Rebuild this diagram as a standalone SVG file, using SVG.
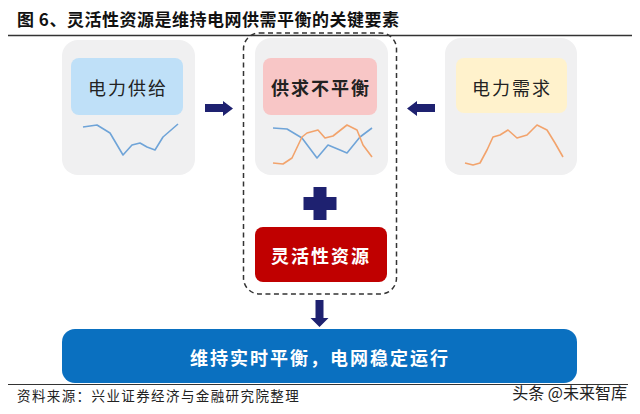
<svg xmlns="http://www.w3.org/2000/svg" width="640" height="414" viewBox="0 0 640 414">
<defs>
<style>
.card{fill:#f0f0f1;}
.lbl{font-family:"Noto Sans CJK SC","Noto Sans",sans-serif;font-size:18px;fill:#222;text-anchor:middle;dominant-baseline:central;letter-spacing:2px;}
.wht{fill:#fff;font-weight:bold;}
.blue{fill:none;stroke:#6fa4d8;stroke-width:1.6;stroke-linejoin:round;}
.orng{fill:none;stroke:#f2a36c;stroke-width:1.6;stroke-linejoin:round;}
.arrow{fill:#1e2170;}
</style>
</defs>
<rect width="640" height="414" fill="#fff"/>
<text x="17" y="26" font-family="Noto Sans CJK SC,sans-serif" font-size="17" font-weight="bold" fill="#111" letter-spacing="0.5">图 6、灵活性资源是维持电网供需平衡的关键要素</text>
<line x1="8" y1="35.5" x2="632" y2="35.5" stroke="#333" stroke-width="1.5"/>

<g id="supply">
<rect class="card" x="62" y="40" width="133" height="135" rx="16"/>
<rect x="71" y="58" width="112" height="57" rx="8" fill="#bfe0f8"/>
<text class="lbl" x="128" y="87">电力供给</text>
<polyline class="blue" points="83,127 97,125 110,133 123,155 132,145 140,143 147,147 155,150 163,137 178,124"/>
</g>

<g id="imbalance">
<rect class="card" x="255" y="38" width="133" height="137" rx="16"/>
<rect x="263" y="58" width="114" height="57" rx="8" fill="#f8c6c6"/>
<text class="lbl" x="321" y="87" font-weight="bold">供求不平衡</text>
<polyline class="blue" points="273,128 287,129 302,138 317,158 328,145 340,150 347,153 360,137 372,128"/>
<polyline class="orng" points="273,163 283,164 292,158 302,137 307,133 318,130 325,138 333,136 347,125 357,130 363,145 372,157"/>
</g>

<g id="demand">
<rect class="card" x="445" y="38" width="132" height="137" rx="16"/>
<rect x="456" y="58" width="111" height="55" rx="8" fill="#fff2cc"/>
<text class="lbl" x="512" y="87">电力需求</text>
<polyline class="orng" points="465,163 473,165 480,163 487,150 493,137 500,135 508,130 517,138 527,135 537,125 547,130 555,143 563,157"/>
</g>

<g id="plus">
<rect class="arrow" x="313.5" y="187" width="13" height="33"/>
<rect class="arrow" x="303.5" y="197" width="33" height="13"/>
</g>

<g id="flex">
<rect x="255" y="227" width="132" height="55" rx="8" fill="#c00000"/>
<text class="lbl wht" x="321" y="255">灵活性资源</text>
</g>

<g id="group">
<rect x="243.5" y="33" width="153" height="261" rx="16" fill="none" stroke="#333" stroke-width="1.5" stroke-dasharray="5,3.5"/>
</g>

<g id="result">
<rect x="62" y="329" width="515" height="54" rx="13" fill="#0a70c0"/>
<text class="lbl wht" x="320" y="357" font-size="19">维持实时平衡，电网稳定运行</text>
</g>

<g id="connectors">
<polygon class="arrow" points="205,104 223,104 223,101 233,108.5 223,116 223,112 205,112"/>
<polygon class="arrow" points="435,104 417,104 417,101 407,108.5 417,116 417,112 435,112"/>
<polygon class="arrow" points="315.5,300 323.5,300 323.5,318 328.5,318 319.5,327 310.5,318 315.5,318"/>
</g>

<line x1="8" y1="384.5" x2="628" y2="384.5" stroke="#333" stroke-width="1"/>
<text x="17" y="401" font-family="Noto Sans CJK SC,sans-serif" font-size="13.5" fill="#222" letter-spacing="1.4">资料来源：兴业证券经济与金融研究院整理</text>
<text x="627" y="399" text-anchor="end" font-family="Noto Sans CJK SC,sans-serif" font-size="16" fill="#222">头条 @未来智库</text>
</svg>
